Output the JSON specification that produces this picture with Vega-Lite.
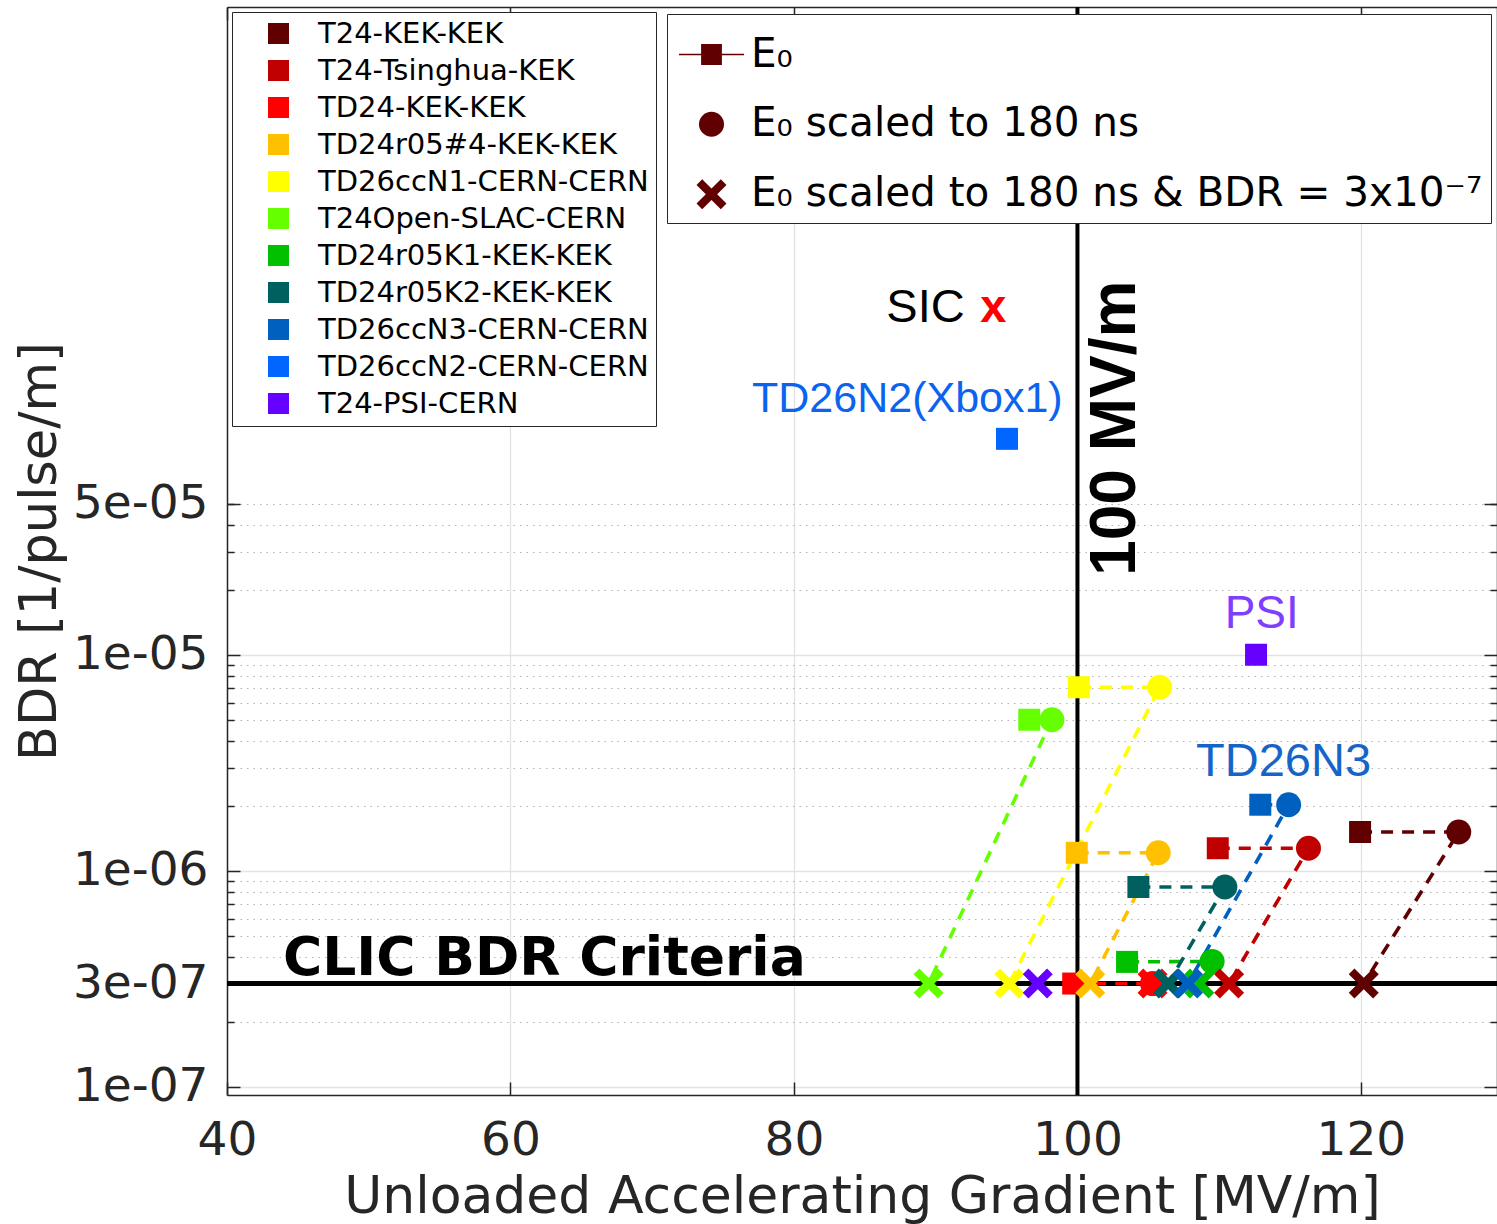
{
  "$schema": "https://vega.github.io/schema/vega-lite/v6.json",
  "width": 1270,
  "height": 1088,
  "autosize": "none",
  "padding": {"left": 227, "top": 7, "right": 0, "bottom": 129},
  "background": "white",
  "config": {"view": {"stroke": null}, "font": "DejaVu Sans"},
  "datasets": {
    "pts": [
      {"series": "T24-KEK-KEK", "kind": "E0", "ord": 1, "x": 119.94, "y": 1.51e-6},
      {"series": "T24-KEK-KEK", "kind": "scaled", "ord": 2, "x": 126.9, "y": 1.51e-6},
      {"series": "T24-KEK-KEK", "kind": "bdr", "ord": 3, "x": 120.2, "y": 3e-7},
      {"series": "T24-Tsinghua-KEK", "kind": "E0", "ord": 1, "x": 109.9, "y": 1.27e-6},
      {"series": "T24-Tsinghua-KEK", "kind": "scaled", "ord": 2, "x": 116.3, "y": 1.27e-6},
      {"series": "T24-Tsinghua-KEK", "kind": "bdr", "ord": 3, "x": 110.7, "y": 3e-7},
      {"series": "TD24-KEK-KEK", "kind": "E0", "ord": 1, "x": 99.7, "y": 3e-7},
      {"series": "TD24-KEK-KEK", "kind": "scaled", "ord": 2, "x": 105.3, "y": 3e-7},
      {"series": "TD24-KEK-KEK", "kind": "bdr", "ord": 3, "x": 105.3, "y": 3e-7},
      {"series": "TD24r05#4-KEK-KEK", "kind": "E0", "ord": 1, "x": 99.95, "y": 1.21e-6},
      {"series": "TD24r05#4-KEK-KEK", "kind": "scaled", "ord": 2, "x": 105.7, "y": 1.21e-6},
      {"series": "TD24r05#4-KEK-KEK", "kind": "bdr", "ord": 3, "x": 100.9, "y": 3e-7},
      {"series": "TD26ccN1-CERN-CERN", "kind": "E0", "ord": 1, "x": 100.1, "y": 7.07e-6},
      {"series": "TD26ccN1-CERN-CERN", "kind": "scaled", "ord": 2, "x": 105.8, "y": 7.07e-6},
      {"series": "TD26ccN1-CERN-CERN", "kind": "bdr", "ord": 3, "x": 95.2, "y": 3e-7},
      {"series": "T24Open-SLAC-CERN", "kind": "E0", "ord": 1, "x": 96.6, "y": 5.0e-6},
      {"series": "T24Open-SLAC-CERN", "kind": "scaled", "ord": 2, "x": 98.2, "y": 5.0e-6},
      {"series": "T24Open-SLAC-CERN", "kind": "bdr", "ord": 3, "x": 89.5, "y": 3e-7},
      {"series": "TD24r05K1-KEK-KEK", "kind": "E0", "ord": 1, "x": 103.5, "y": 3.78e-7},
      {"series": "TD24r05K1-KEK-KEK", "kind": "scaled", "ord": 2, "x": 109.5, "y": 3.8e-7},
      {"series": "TD24r05K1-KEK-KEK", "kind": "bdr", "ord": 3, "x": 108.6, "y": 3e-7},
      {"series": "TD24r05K2-KEK-KEK", "kind": "E0", "ord": 1, "x": 104.3, "y": 8.4e-7},
      {"series": "TD24r05K2-KEK-KEK", "kind": "scaled", "ord": 2, "x": 110.4, "y": 8.4e-7},
      {"series": "TD24r05K2-KEK-KEK", "kind": "bdr", "ord": 3, "x": 106.4, "y": 3e-7},
      {"series": "TD26ccN3-CERN-CERN", "kind": "E0", "ord": 1, "x": 112.9, "y": 2.02e-6},
      {"series": "TD26ccN3-CERN-CERN", "kind": "scaled", "ord": 2, "x": 114.9, "y": 2.02e-6},
      {"series": "TD26ccN3-CERN-CERN", "kind": "bdr", "ord": 3, "x": 107.8, "y": 3e-7},
      {"series": "TD26ccN2-CERN-CERN", "kind": "E0", "ord": 1, "x": 95.03, "y": 1.0e-4},
      {"series": "T24-PSI-CERN", "kind": "E0", "ord": 1, "x": 112.6, "y": 1.0e-5},
      {"series": "T24-PSI-CERN", "kind": "bdr", "ord": 3, "x": 97.2, "y": 3e-7}
    ]
  },
  "resolve": {"axis": {"x": "independent", "y": "independent"}},
  "layer": [
    {
      "data": {"values": [{"y": 3e-7}]},
      "mark": {"type": "rule", "color": "black", "strokeWidth": 5},
      "encoding": {
        "y": {"field": "y", "type": "quantitative",
          "scale": {"type": "log", "domain": [9.14e-8, 0.01], "nice": false},
          "axis": {"orient": "left", "values": [1e-7, 3e-7, 1e-6, 1e-5, 5e-5],
            "labelExpr": "replace(format(datum.value, '.0e'), 'e-', 'e-0')",
            "labelFont": "DejaVu Sans", "labelFontSize": 47, "labelColor": "#262626", "labelPadding": 19,
            "labelOverlap": false, "labelFlush": false, "labelLimit": 1000,
            "ticks": false, "grid": false, "domain": true, "domainColor": "#262626", "domainWidth": 1.5,
            "title": "BDR [1/pulse/m]", "titleFont": "DejaVu Sans", "titleFontSize": 51, "titleFontWeight": "normal",
            "titleColor": "#262626", "titlePadding": 6}}
      }
    },
    {
      "data": {"values": [{"x": 100}]},
      "mark": {"type": "rule", "color": "black", "strokeWidth": 4},
      "encoding": {
        "x": {"field": "x", "type": "quantitative",
          "scale": {"domain": [40, 129.6], "nice": false, "zero": false},
          "axis": {"orient": "bottom", "values": [40, 60, 80, 100, 120],
            "labelFont": "DejaVu Sans", "labelFontSize": 47, "labelColor": "#262626", "labelPadding": 22,
            "labelOverlap": false, "labelFlush": false,
            "ticks": false, "grid": true, "gridColor": "#e2e2e2", "gridWidth": 1.3,
            "domain": true, "domainColor": "#262626", "domainWidth": 1.5,
            "title": "Unloaded Accelerating Gradient [MV/m]", "titleFont": "DejaVu Sans", "titleFontSize": 52,
            "titleFontWeight": "normal", "titleColor": "#262626", "titlePadding": 8}}
      }
    },
    {
      "data": {"name": "pts"},
      "transform": [{"filter": "datum.series !== 'T24-PSI-CERN' && datum.series !== 'TD26ccN2-CERN-CERN'"}],
      "mark": {"type": "line", "strokeWidth": 3.6, "strokeDash": [12, 9]},
      "encoding": {
        "x": {"field": "x", "type": "quantitative",
          "scale": {"domain": [40, 129.6], "nice": false, "zero": false},
          "axis": {"orient": "top", "values": [40, 60, 80, 100, 120], "labels": false, "ticks": true,
            "tickSize": -13, "tickColor": "#262626", "tickWidth": 1.5, "grid": false,
            "domain": true, "domainColor": "#262626", "domainWidth": 1.5, "title": null}},
        "y": {"field": "y", "type": "quantitative",
          "scale": {"type": "log", "domain": [9.14e-8, 0.01], "nice": false},
          "axis": {"orient": "left", "values": [1e-7, 1e-6, 1e-5], "labels": false, "ticks": false,
            "domain": false, "grid": true, "gridColor": "#e2e2e2", "gridWidth": 1.3, "title": null}},
        "stroke": {"field": "series", "type": "nominal",
          "scale": {"domain": ["T24-KEK-KEK", "T24-Tsinghua-KEK", "TD24-KEK-KEK", "TD24r05#4-KEK-KEK", "TD26ccN1-CERN-CERN", "T24Open-SLAC-CERN", "TD24r05K1-KEK-KEK", "TD24r05K2-KEK-KEK", "TD26ccN3-CERN-CERN"],
            "range": ["#600000", "#c00000", "#ff0000", "#ffc000", "#ffff00", "#66ff00", "#00c000", "#006060", "#0060c0"]},
          "legend": null},
        "order": {"field": "ord", "type": "quantitative"}
      }
    },
    {
      "data": {"name": "pts"},
      "transform": [{"filter": "datum.kind === 'E0'"}],
      "mark": {"type": "point", "shape": "square", "size": 484, "filled": true, "opacity": 1, "strokeWidth": 0},
      "encoding": {
        "x": {"field": "x", "type": "quantitative",
          "scale": {"domain": [40, 129.6], "nice": false, "zero": false},
          "axis": {"orient": "bottom", "values": [40, 60, 80, 100, 120], "labels": false, "ticks": true,
            "tickSize": -13, "tickColor": "#262626", "tickWidth": 1.5, "grid": false, "domain": false, "title": null}},
        "y": {"field": "y", "type": "quantitative",
          "scale": {"type": "log", "domain": [9.14e-8, 0.01], "nice": false},
          "axis": {"orient": "left", "values": [2e-7, 4e-7, 5e-7, 6e-7, 7e-7, 8e-7, 9e-7, 2e-6, 3e-6, 4e-6, 5e-6, 6e-6, 7e-6, 8e-6, 9e-6, 2e-5, 3e-5, 4e-5, 5e-5],
            "labels": false, "ticks": true, "tickSize": -7, "tickColor": "#262626", "tickWidth": 1.5,
            "domain": false, "grid": true, "gridColor": "#b4b4b4", "gridWidth": 1.2, "gridDash": [1.5, 5], "title": null}},
        "color": {"field": "series", "type": "nominal",
          "scale": {"domain": ["T24-KEK-KEK", "T24-Tsinghua-KEK", "TD24-KEK-KEK", "TD24r05#4-KEK-KEK", "TD26ccN1-CERN-CERN", "T24Open-SLAC-CERN", "TD24r05K1-KEK-KEK", "TD24r05K2-KEK-KEK", "TD26ccN3-CERN-CERN", "TD26ccN2-CERN-CERN", "T24-PSI-CERN"],
            "range": ["#600000", "#c00000", "#ff0000", "#ffc000", "#ffff00", "#66ff00", "#00c000", "#006060", "#0060c0", "#0066ff", "#6600ff"]},
          "legend": {"orient": "none", "legendX": 5, "legendY": 5, "title": null, "symbolType": "square",
            "symbolSize": 441, "symbolStrokeWidth": 0, "symbolOpacity": 1, "symbolOffset": 25,
            "labelOffset": 25, "labelFont": "DejaVu Sans", "labelFontSize": 29, "labelColor": "black",
            "labelLimit": 1000, "rowPadding": 7, "padding": 7, "strokeColor": "#262626", "fillColor": "white"}}
      }
    },
    {
      "data": {"name": "pts"},
      "transform": [{"filter": "datum.kind === 'scaled'"}],
      "mark": {"type": "point", "shape": "circle", "size": 625, "filled": true, "opacity": 1, "strokeWidth": 0},
      "encoding": {
        "x": {"field": "x", "type": "quantitative",
          "scale": {"domain": [40, 129.6], "nice": false, "zero": false}, "axis": null},
        "y": {"field": "y", "type": "quantitative",
          "scale": {"type": "log", "domain": [9.14e-8, 0.01], "nice": false},
          "axis": {"orient": "right", "values": [1e-7, 3e-7, 1e-6, 1e-5, 5e-5], "labels": false, "ticks": true,
            "tickSize": -13, "tickColor": "#262626", "tickWidth": 1.5, "grid": false,
            "domain": true, "domainColor": "#262626", "domainWidth": 1.5, "title": null}},
        "color": {"field": "series", "type": "nominal", "legend": null}
      }
    },
    {
      "data": {"name": "pts"},
      "transform": [{"filter": "datum.kind === 'bdr'"}],
      "mark": {"type": "point", "shape": "M-0.62,-1L0,-0.38L0.62,-1L1,-0.62L0.38,0L1,0.62L0.62,1L0,0.38L-0.62,1L-1,0.62L-0.38,0L-1,-0.62Z", "size": 900, "filled": true, "opacity": 1, "strokeWidth": 0},
      "encoding": {
        "x": {"field": "x", "type": "quantitative",
          "scale": {"domain": [40, 129.6], "nice": false, "zero": false}, "axis": null},
        "y": {"field": "y", "type": "quantitative",
          "scale": {"type": "log", "domain": [9.14e-8, 0.01], "nice": false},
          "axis": {"orient": "left", "values": [1e-7, 3e-7, 1e-6, 1e-5, 5e-5], "labels": false, "ticks": true,
            "tickSize": -13, "tickColor": "#262626", "tickWidth": 1.5, "grid": false, "domain": false, "title": null}},
        "color": {"field": "series", "type": "nominal", "legend": null}
      }
    },
    {
      "data": {"name": "pts"},
      "mark": {"type": "point", "filled": true, "color": "#600000", "opacity": 0, "strokeWidth": 0},
      "encoding": {
        "x": {"field": "x", "type": "quantitative",
          "scale": {"domain": [40, 129.6], "nice": false, "zero": false}, "axis": null},
        "y": {"field": "y", "type": "quantitative",
          "scale": {"type": "log", "domain": [9.14e-8, 0.01], "nice": false},
          "axis": {"orient": "right", "values": [2e-7, 4e-7, 5e-7, 6e-7, 7e-7, 8e-7, 9e-7, 2e-6, 3e-6, 4e-6, 5e-6, 6e-6, 7e-6, 8e-6, 9e-6, 2e-5, 3e-5, 4e-5, 5e-5],
            "labels": false, "ticks": true, "tickSize": -7, "tickColor": "#262626", "tickWidth": 1.5,
            "grid": false, "domain": false, "title": null}},
        "shape": {"field": "kind", "type": "nominal",
          "scale": {"domain": ["E0", "scaled", "bdr"],
            "range": ["M-1,-0.025H1V0.025H-1ZM-0.32,-0.32H0.32V0.32H-0.32Z", "circle", "M-0.62,-1L0,-0.38L0.62,-1L1,-0.62L0.38,0L1,0.62L0.62,1L0,0.38L-0.62,1L-1,0.62L-0.38,0L-1,-0.62Z"]},
          "legend": {"orient": "none", "legendX": 440, "legendY": 7, "title": null,
            "labelExpr": "datum.value === 'E0' ? 'E₀' : datum.value === 'scaled' ? 'E₀ scaled to 180 ns' : 'E₀ scaled to 180 ns & BDR = 3x10⁻⁷'",
            "symbolOpacity": 1, "symbolStrokeWidth": 0, "symbolOffset": 4, "labelOffset": 7, "labelFont": "DejaVu Sans", "labelFontSize": 40.5, "labelColor": "black",
            "labelLimit": 2000, "rowPadding": 29, "padding": 8, "strokeColor": "#262626", "fillColor": "white"}},
        "size": {"field": "kind", "type": "nominal",
          "scale": {"type": "ordinal", "domain": ["E0", "scaled", "bdr"], "range": [4225, 625, 900]},
          "legend": {"orient": "none", "legendX": 440, "legendY": 7, "title": null,
            "labelExpr": "datum.value === 'E0' ? 'E₀' : datum.value === 'scaled' ? 'E₀ scaled to 180 ns' : 'E₀ scaled to 180 ns & BDR = 3x10⁻⁷'",
            "symbolOpacity": 1, "symbolStrokeWidth": 0, "symbolOffset": 4, "labelOffset": 7, "labelFont": "DejaVu Sans", "labelFontSize": 40.5, "labelColor": "black",
            "labelLimit": 2000, "rowPadding": 29, "padding": 8, "strokeColor": "#262626", "fillColor": "white"}}
      }
    },
    {
      "data": {"values": [{"x": 43.95, "y": 3.3e-7, "t": "CLIC BDR Criteria"}]},
      "mark": {"type": "text", "font": "DejaVu Sans", "fontWeight": "bold", "fontSize": 53.5, "align": "left", "baseline": "alphabetic", "color": "black"},
      "encoding": {
        "x": {"field": "x", "type": "quantitative", "scale": {"domain": [40, 129.6], "nice": false, "zero": false}, "axis": null},
        "y": {"field": "y", "type": "quantitative", "scale": {"type": "log", "domain": [9.14e-8, 0.01], "nice": false}, "axis": null},
        "text": {"field": "t"}
      }
    },
    {
      "data": {"values": [{"x": 104.06, "y": 1.12e-4, "t": "100 MV/m"}]},
      "mark": {"type": "text", "font": "Liberation Sans", "fontWeight": "bold", "fontSize": 64, "align": "center", "baseline": "alphabetic", "angle": 270, "color": "black"},
      "encoding": {
        "x": {"field": "x", "type": "quantitative", "scale": {"domain": [40, 129.6], "nice": false, "zero": false}, "axis": null},
        "y": {"field": "y", "type": "quantitative", "scale": {"type": "log", "domain": [9.14e-8, 0.01], "nice": false}, "axis": null},
        "text": {"field": "t"}
      }
    },
    {
      "data": {"values": [{"x": 89.28, "y": 3.49e-4, "t": "SIC"}]},
      "mark": {"type": "text", "font": "Liberation Sans", "fontSize": 47, "align": "center", "baseline": "alphabetic", "color": "black"},
      "encoding": {
        "x": {"field": "x", "type": "quantitative", "scale": {"domain": [40, 129.6], "nice": false, "zero": false}, "axis": null},
        "y": {"field": "y", "type": "quantitative", "scale": {"type": "log", "domain": [9.14e-8, 0.01], "nice": false}, "axis": null},
        "text": {"field": "t"}
      }
    },
    {
      "data": {"values": [{"x": 94.06, "y": 3.49e-4, "t": "x"}]},
      "mark": {"type": "text", "font": "Liberation Sans", "fontWeight": "bold", "fontSize": 47, "align": "center", "baseline": "alphabetic", "color": "#ff0000"},
      "encoding": {
        "x": {"field": "x", "type": "quantitative", "scale": {"domain": [40, 129.6], "nice": false, "zero": false}, "axis": null},
        "y": {"field": "y", "type": "quantitative", "scale": {"type": "log", "domain": [9.14e-8, 0.01], "nice": false}, "axis": null},
        "text": {"field": "t"}
      }
    },
    {
      "data": {"values": [{"x": 88.0, "y": 1.336e-4, "t": "TD26N2(Xbox1)"}]},
      "mark": {"type": "text", "font": "Liberation Sans", "fontSize": 43, "align": "center", "baseline": "alphabetic", "color": "#0a64f0"},
      "encoding": {
        "x": {"field": "x", "type": "quantitative", "scale": {"domain": [40, 129.6], "nice": false, "zero": false}, "axis": null},
        "y": {"field": "y", "type": "quantitative", "scale": {"type": "log", "domain": [9.14e-8, 0.01], "nice": false}, "axis": null},
        "text": {"field": "t"}
      }
    },
    {
      "data": {"values": [{"x": 113.0, "y": 1.333e-5, "t": "PSI"}]},
      "mark": {"type": "text", "font": "Liberation Sans", "fontSize": 46, "align": "center", "baseline": "alphabetic", "color": "#7f3fff"},
      "encoding": {
        "x": {"field": "x", "type": "quantitative", "scale": {"domain": [40, 129.6], "nice": false, "zero": false}, "axis": null},
        "y": {"field": "y", "type": "quantitative", "scale": {"type": "log", "domain": [9.14e-8, 0.01], "nice": false}, "axis": null},
        "text": {"field": "t"}
      }
    },
    {
      "data": {"values": [{"x": 114.54, "y": 2.75e-6, "t": "TD26N3"}]},
      "mark": {"type": "text", "font": "Liberation Sans", "fontSize": 47, "align": "center", "baseline": "alphabetic", "color": "#1565c8"},
      "encoding": {
        "x": {"field": "x", "type": "quantitative", "scale": {"domain": [40, 129.6], "nice": false, "zero": false}, "axis": null},
        "y": {"field": "y", "type": "quantitative", "scale": {"type": "log", "domain": [9.14e-8, 0.01], "nice": false}, "axis": null},
        "text": {"field": "t"}
      }
    }
  ]
}
